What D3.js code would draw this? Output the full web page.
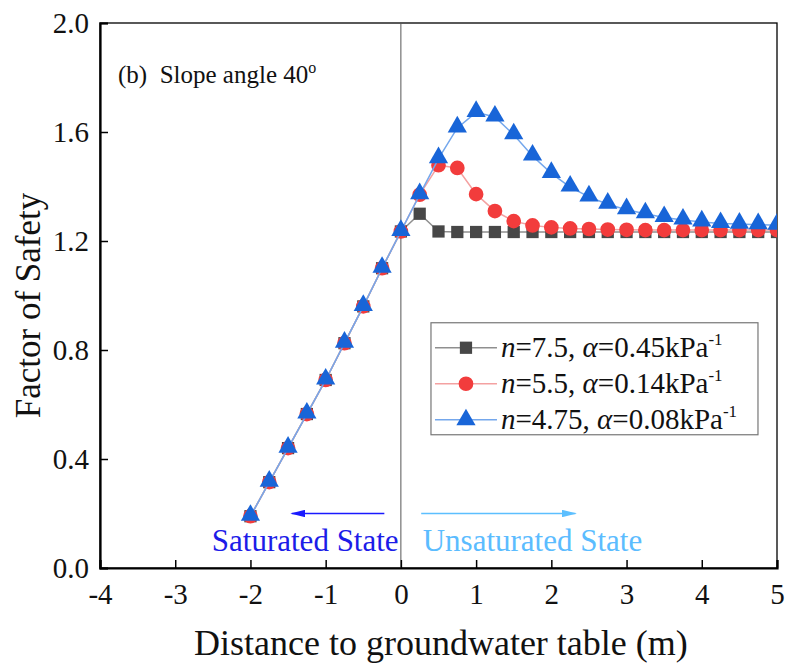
<!DOCTYPE html>
<html>
<head>
<meta charset="utf-8">
<script src="https://cdn.jsdelivr.net/npm/d3@7"></script>
<style>
  body { margin: 0; background: #fff; }
  svg { font-family: "Liberation Serif", "Times New Roman", serif; }
</style>
</head>
<body>
<div id="chart"></div>
<script>
'use strict';

// distance to groundwater table (m)
var distances = [-2, -1.75, -1.5, -1.25, -1, -0.75, -0.5, -0.25, 0,
  0.25, 0.5, 0.75, 1, 1.25, 1.5, 1.75, 2, 2.25, 2.5, 2.75, 3,
  3.25, 3.5, 3.75, 4, 4.25, 4.5, 4.75, 5];

var fsN75 = [0.19, 0.315, 0.44, 0.565, 0.69, 0.825, 0.96, 1.10, 1.235,
  1.30, 1.235, 1.233, 1.233, 1.233, 1.233, 1.233, 1.233, 1.233, 1.233, 1.233, 1.233,
  1.233, 1.233, 1.233, 1.233, 1.233, 1.233, 1.233, 1.233];

var fsN55 = [0.19, 0.315, 0.44, 0.565, 0.69, 0.825, 0.96, 1.10, 1.235,
  1.37, 1.478, 1.468, 1.372, 1.31, 1.273, 1.257, 1.25, 1.246, 1.244, 1.242, 1.241,
  1.24, 1.24, 1.24, 1.24, 1.24, 1.24, 1.24, 1.24];

var fsN475 = [0.19, 0.315, 0.44, 0.565, 0.69, 0.825, 0.96, 1.10, 1.235,
  1.37, 1.502, 1.615, 1.672, 1.655, 1.59, 1.512, 1.448, 1.398, 1.362, 1.335, 1.315,
  1.30, 1.286, 1.277, 1.27, 1.264, 1.262, 1.26, 1.258];

var seriesNames = ['n=7.5', 'n=5.5', 'n=4.75'];
var alphaLabels = ['0.45', '0.14', '0.08'];
var xTicks = [-4, -3, -2, -1, 0, 1, 2, 3, 4, 5];
var yTicks = [0, 0.4, 0.8, 1.2, 1.6, 2.0];

var W = 788, H = 669,
    margin = { top: 23, right: 11, bottom: 101, left: 100 },
    width = W - margin.left - margin.right,
    height = H - margin.top - margin.bottom;

var x = d3.scaleLinear().domain([-4, 5]).range([0, width]),
    y = d3.scaleLinear().domain([0, 2]).range([height, 0]);

var svg = d3.select('#chart').append('svg').attr('width', W).attr('height', H);
var g = svg.append('g').attr('transform', 'translate(' + margin.left + ',' + margin.top + ')');

svg.append('defs').append('clipPath').attr('id', 'plotClip')
  .append('rect').attr('width', width).attr('height', height);

// frame
g.append('rect').attr('width', width).attr('height', height)
  .attr('fill', 'none').attr('stroke', '#000').attr('stroke-width', 1.3);

// groundwater table line
g.append('line').attr('x1', x(0)).attr('x2', x(0)).attr('y1', 0).attr('y2', height)
  .attr('stroke', '#555').attr('stroke-width', 1);

// axes (ticks point inward)
var xAxis = g.append('g').attr('transform', 'translate(0,' + height + ')')
  .call(d3.axisBottom(x).tickValues(xTicks).tickSize(-8).tickPadding(15).tickFormat(d3.format('d')));
var yAxis = g.append('g')
  .call(d3.axisLeft(y).tickValues(yTicks).tickSize(-8).tickPadding(11).tickFormat(d3.format('.1f')));

[xAxis, yAxis].forEach(function (a) {
  a.attr('font-size', 29).attr('font-family', '"Liberation Serif", serif');
  a.select('.domain').attr('stroke-width', 2.2);
  a.selectAll('.tick line').attr('stroke-width', 1.5);
  a.selectAll('.tick text').attr('fill', '#111');
});
xAxis.selectAll('.tick text').text(function (d) { return d < 0 ? '-' + Math.abs(d) : d; });

var series = [
  { values: fsN75, line: '#8f8f8f', fill: '#474747', shape: 'square' },
  { values: fsN55, line: '#f4a1a1', fill: '#f23c3c', shape: 'circle' },
  { values: fsN475, line: '#74a7ec', fill: '#1865d8', shape: 'triangle' }
];

var symbols = {
  square: d3.symbol().type(d3.symbolSquare).size(150),
  circle: d3.symbol().type(d3.symbolCircle).size(170),
  triangle: d3.symbol().type(d3.symbolTriangle).size(160)
};

var line = d3.line().x(function (d) { return x(d[0]); }).y(function (d) { return y(d[1]); });
var plot = g.append('g').attr('clip-path', 'url(#plotClip)');

series.forEach(function (s) {
  var pts = distances.map(function (d, i) { return [d, s.values[i]]; });
  plot.append('path').datum(pts).attr('d', line)
    .attr('fill', 'none').attr('stroke', s.line).attr('stroke-width', 1.5);
  plot.selectAll(null).data(pts).enter().append('path')
    .attr('d', symbols[s.shape])
    .attr('transform', function (d) {
      var dy = s.shape === 'triangle' ? -1 : 0;
      return 'translate(' + x(d[0]) + ',' + (y(d[1]) + dy) + ')';
    })
    .attr('fill', s.fill);
});

// panel title
var title = g.append('text').attr('x', 18).attr('y', 60).attr('font-size', 25).attr('fill', '#111');
title.append('tspan').text('(b)\u00a0\u00a0Slope angle 40');
title.append('tspan').attr('font-size', 16).attr('dy', -10).text('o');

// state arrows and labels
svg.append('defs').selectAll('marker').data([['arrL', '#1a1aff'], ['arrR', '#5cbfff']]).enter()
  .append('marker').attr('id', function (d) { return d[0]; })
  .attr('viewBox', '0 0 10 10').attr('refX', 9).attr('refY', 5)
  .attr('markerWidth', 10).attr('markerHeight', 5).attr('orient', 'auto')
  .attr('preserveAspectRatio', 'none')
  .append('path').attr('d', 'M0,0 L10,5 L0,10 z').attr('fill', function (d) { return d[1]; });

var arrowY = y(0.2);
g.append('line').attr('x1', x(-0.22)).attr('x2', x(-1.45)).attr('y1', arrowY).attr('y2', arrowY)
  .attr('stroke', '#1a1aff').attr('stroke-width', 1.5).attr('marker-end', 'url(#arrL)');
g.append('line').attr('x1', x(0.27)).attr('x2', x(2.32)).attr('y1', arrowY).attr('y2', arrowY)
  .attr('stroke', '#5cbfff').attr('stroke-width', 1.5).attr('marker-end', 'url(#arrR)');

g.append('text').attr('x', x(-0.03)).attr('y', y(0.062)).attr('text-anchor', 'end')
  .attr('font-size', 31).attr('fill', '#1c1ce8').text('Saturated State');
g.append('text').attr('x', x(0.29)).attr('y', y(0.062))
  .attr('font-size', 31).attr('fill', '#5bbcff').text('Unsaturated State');

// legend
var lg = g.append('g').attr('transform', 'translate(' + (x(0.4)) + ',' + (y(0.9)) + ')');
lg.append('rect').attr('width', 327).attr('height', 112)
  .attr('fill', '#fff').attr('stroke', '#777').attr('stroke-width', 1.2);

series.forEach(function (s, i) {
  var row = lg.append('g').attr('transform', 'translate(0,' + (25 + i * 36) + ')');
  row.append('line').attr('x1', 4).attr('x2', 66).attr('stroke', s.line).attr('stroke-width', 1.3);
  row.append('path').attr('d', symbols[s.shape]).attr('transform', 'translate(35,0)').attr('fill', s.fill);
  var t = row.append('text').attr('x', 70).attr('y', 9).attr('font-size', 29).attr('fill', '#111');
  var parts = seriesNames[i].split('=');
  t.append('tspan').attr('font-style', 'italic').text(parts[0]);
  t.append('tspan').text('=' + parts[1] + ', ');
  t.append('tspan').attr('font-style', 'italic').text('\u03b1');
  t.append('tspan').text('=' + alphaLabels[i] + 'kPa');
  t.append('tspan').attr('font-size', 17).attr('dy', -12).text('-1');
});

// axis titles
svg.append('text').attr('x', margin.left + x(0) + 40).attr('y', 655).attr('text-anchor', 'middle')
  .attr('font-size', 36).attr('fill', '#111').text('Distance to groundwater table (m)');
svg.append('text').attr('transform', 'translate(40,' + (margin.top + height / 2 + 10) + ') rotate(-90)')
  .attr('text-anchor', 'middle').attr('font-size', 35).attr('fill', '#111').text('Factor of Safety');
</script>
</body>
</html>
